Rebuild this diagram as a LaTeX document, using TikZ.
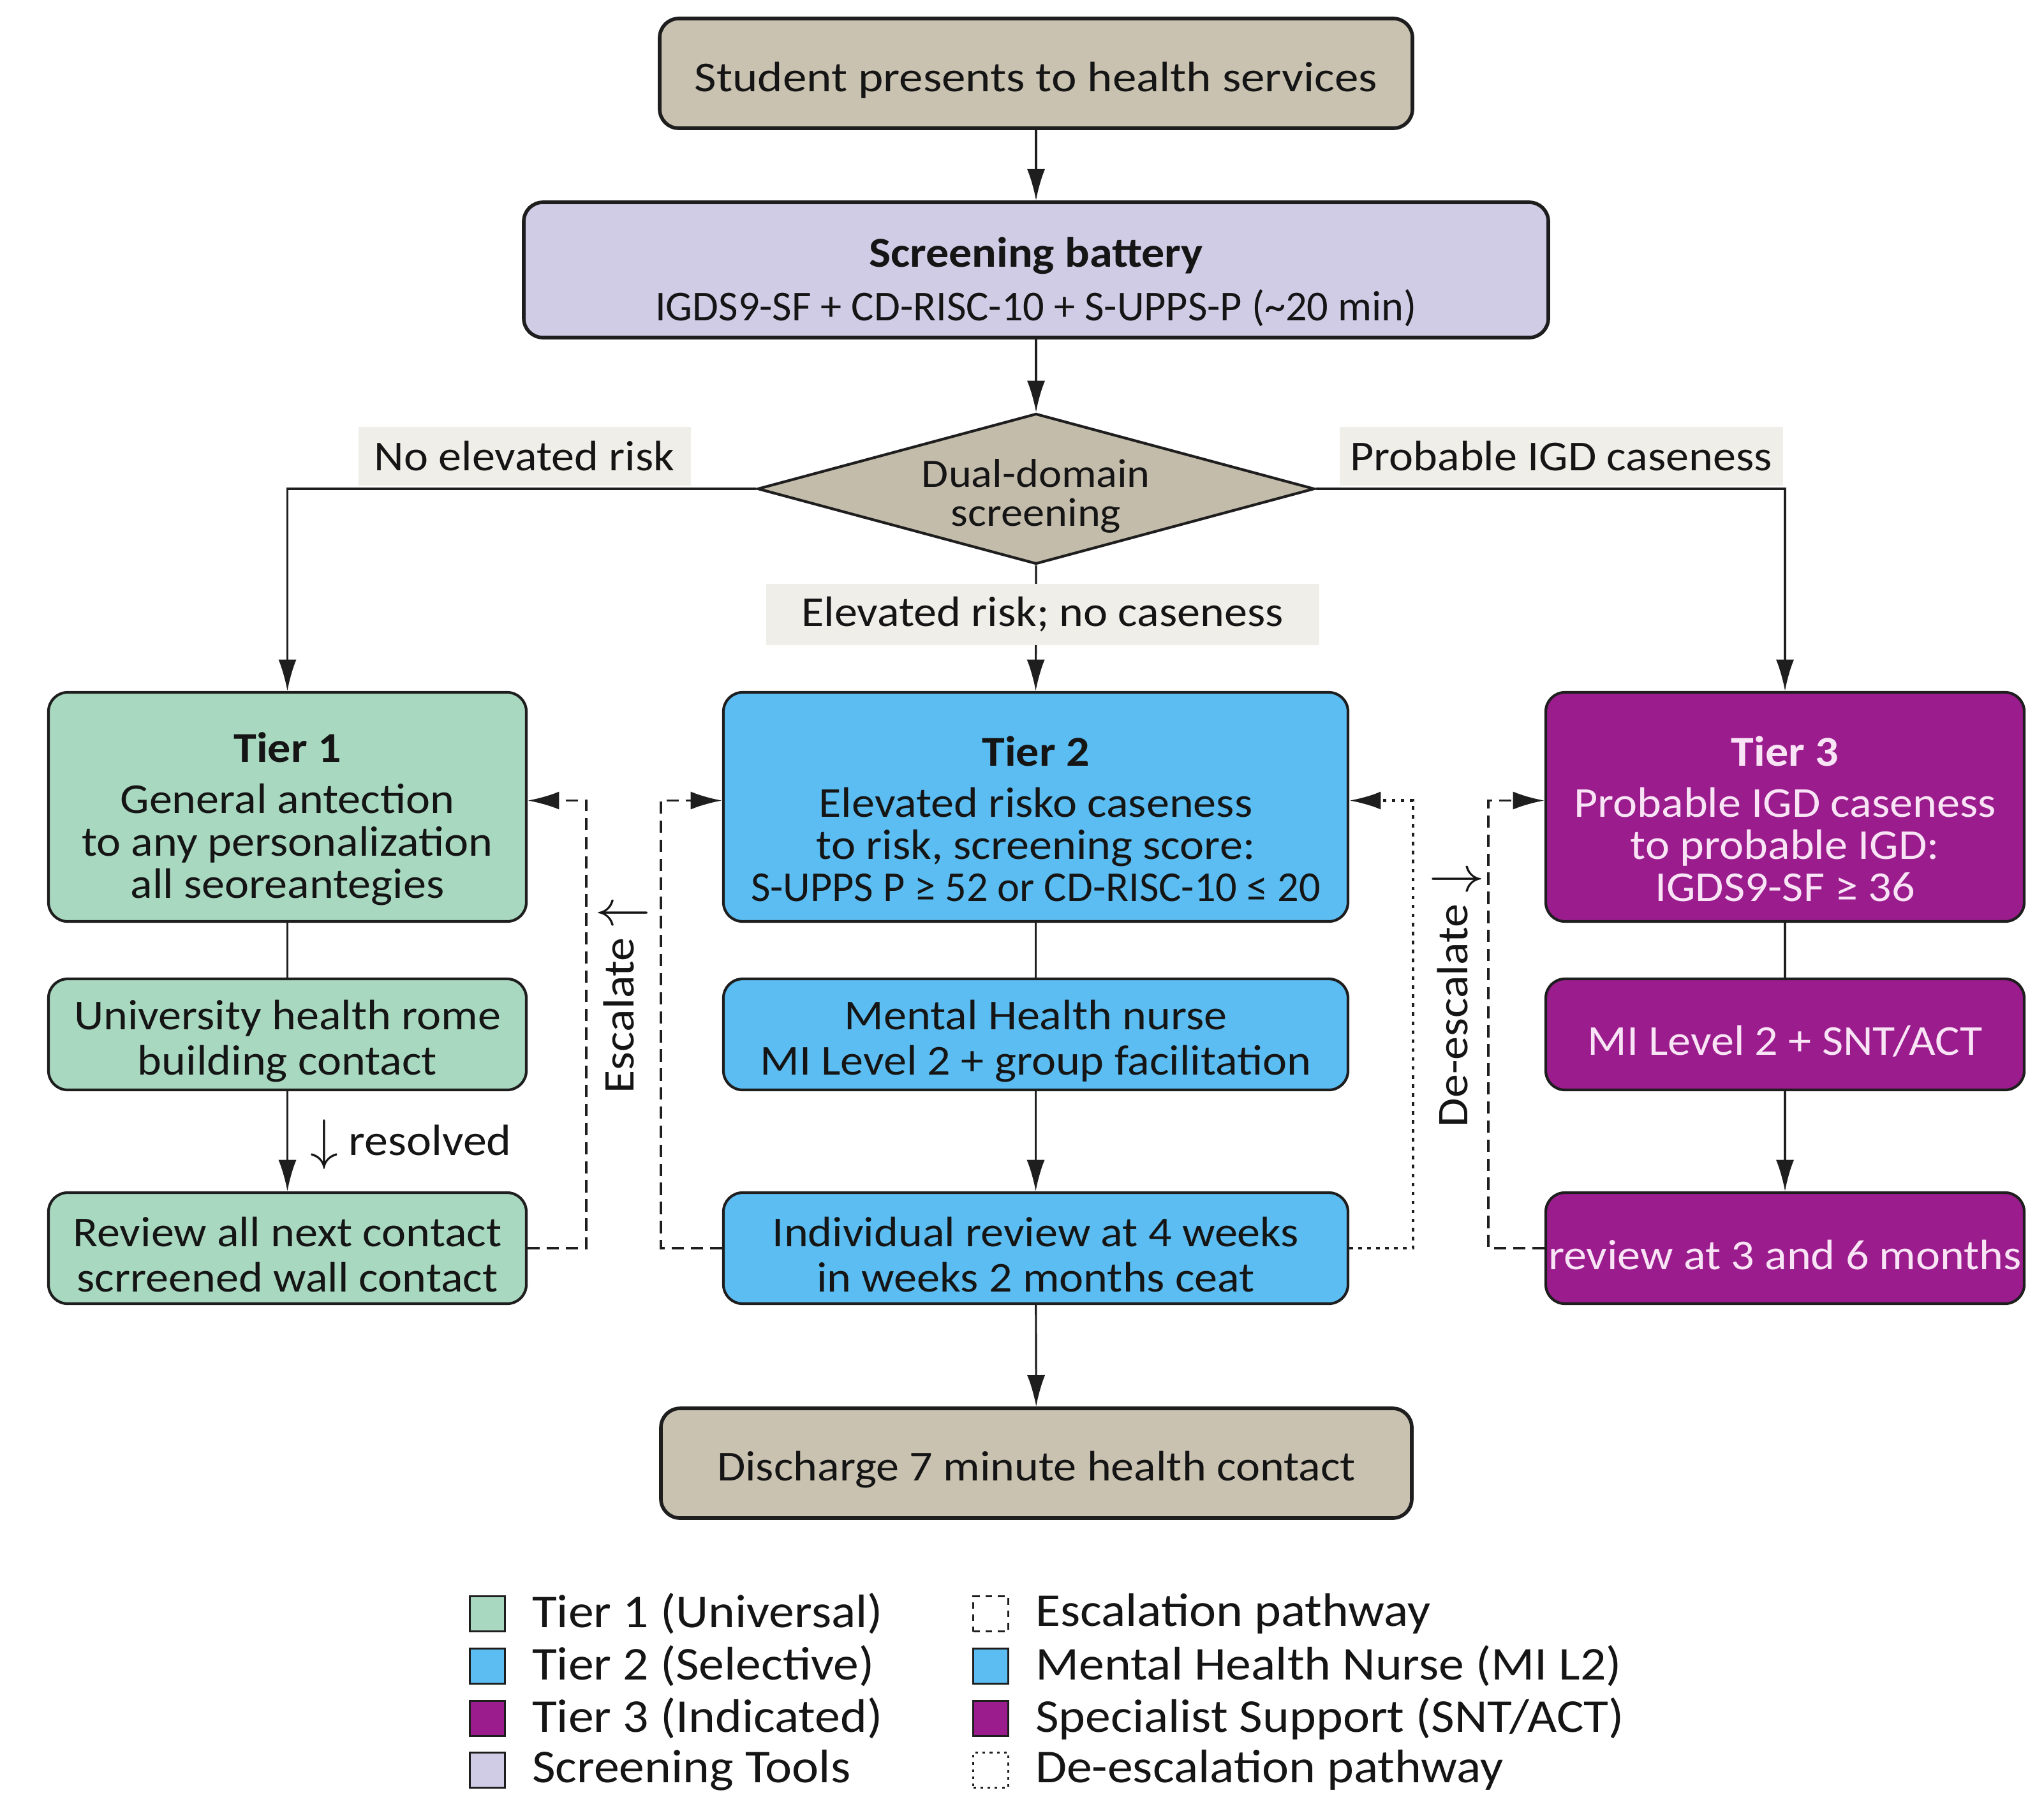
\documentclass[tikz,border=0pt]{standalone}
\usepackage{fontspec}
\setmainfont{Carlito}[FakeStretch=1.08]
\usepackage{xcolor}
\usepackage{graphicx}
\usetikzlibrary{arrows.meta, positioning, calc, shapes.geometric}

\definecolor{tanbox}{HTML}{C9C2B1}
\definecolor{diabox}{HTML}{C4BCAB}
\definecolor{screenbox}{HTML}{D0CCE6}
\definecolor{tieronec}{HTML}{A8D8C0}
\definecolor{tiertwoc}{HTML}{5BBDF1}
\definecolor{tierthreec}{HTML}{9B1C8D}
\definecolor{tierthreetxt}{HTML}{F9E4F6}
\definecolor{lblbg}{HTML}{EFEEE8}
\definecolor{edgec}{HTML}{1E1E1E}
\definecolor{txtc}{HTML}{151515}

\newcommand{\bigarr}[1]{\raisebox{-1.5pt}{\scalebox{1.2}{$#1$}}}
\newcommand{\pushdown}[1]{\rule{0pt}{#1}}

\tikzset{
    basebox/.style={draw=edgec, rounded corners=0.3cm, align=center, inner sep=0pt,
        text=txtc, font=\fontsize{19}{18.8}\selectfont},
    endbox/.style={basebox, fill=tanbox, line width=1.6pt, minimum height=1.72cm},
    toolbox/.style={basebox, fill=screenbox, line width=1.6pt},
    tierone/.style={basebox, fill=tieronec, line width=1.2pt, minimum width=7.49cm},
    tiertwo/.style={basebox, fill=tiertwoc, line width=1.2pt, minimum width=9.79cm},
    tierthree/.style={basebox, fill=tierthreec, line width=1.2pt, minimum width=7.5cm,
        text=tierthreetxt},
    branchlbl/.style={fill=lblbg, inner sep=0pt, minimum height=0.92cm, text=txtc,
        font=\fontsize{19}{18.8}\selectfont},
    flow/.style={-{Latex[length=14pt,width=8pt]}, line width=0.9pt, draw=edgec},
    escline/.style={flow, line width=1.1pt, dash pattern=on 5.5pt off 3pt},
    descline/.style={flow, line width=1.3pt, dash pattern=on 1.6pt off 2.4pt},
    sidelbl/.style={text=txtc, inner sep=0pt, font=\fontsize{19.5}{18.8}\selectfont},
    legsq/.style={draw=edgec, line width=1.1pt, minimum size=0.55cm, inner sep=0pt},
    legtxt/.style={right=0.4cm, inner sep=0pt, text=txtc, font=\fontsize{21}{21}\selectfont}
}

\begin{document}
\begin{tikzpicture}

            \useasboundingbox (0,0) rectangle (32.04,-28.48);

            % 入口与筛查
            \node[endbox, minimum width=11.8cm] (start) at (16.24,-1.15)
            {\pushdown{19pt}\scalebox{1.04}[1]{Student presents to health services}};
            \node[toolbox, minimum width=16.06cm, minimum height=2.12cm] (battery) at (16.24,-4.23)
            {\pushdown{24pt}\textbf{Screening battery}\\[5pt]\scalebox{0.92}[1]{IGDS9-SF + CD-RISC-10 + S-UPPS-P (\textasciitilde20 min)}};
            \node[diamond, draw=edgec, fill=diabox, line width=1.2pt, aspect=3.7, inner sep=0pt,
                minimum width=8.48cm, minimum height=2.29cm, align=center, text=txtc,
                font=\fontsize{18}{17.5}\selectfont] (dual) at (16.24,-7.66)
            {\pushdown{19pt}Dual-domain\\screening};

            % 三个层级
            \node[tierone, minimum height=3.59cm] (tone) at (4.505,-12.645)
            {\pushdown{24pt}\textbf{Tier 1}\\[4pt]General antection\\to any personalization\\all seoreantegies};
            \node[tiertwo, minimum height=3.59cm] (ttwo) at (16.235,-12.645)
            {\pushdown{24pt}\textbf{Tier 2}\\[4pt]Elevated risko caseness\\to risk, screening score:\\\scalebox{0.92}[1]{S-UPPS P ≥ 52 or CD-RISC-10 ≤ 20}};
            \node[tierthree, minimum height=3.59cm] (tthree) at (27.98,-12.645)
            {\pushdown{24pt}\textbf{Tier 3}\\[4pt]Probable IGD caseness\\to probable IGD:\\IGDS9-SF ≥ 36};

            % 干预
            \node[tierone, minimum height=1.74cm] (uhealth) at (4.505,-16.21)
            {\pushdown{19pt}University health rome\\[1.5pt]building contact};
            \node[tiertwo, minimum height=1.74cm] (nurse) at (16.235,-16.21)
            {\pushdown{19pt}Mental Health nurse\\[1.5pt]MI Level 2 + group facilitation};
            \node[tierthree, minimum height=1.74cm] (snt) at (27.98,-16.21)
            {\pushdown{19pt}MI Level 2 + SNT/ACT};

            % 复查
            \node[tierone, minimum height=1.74cm] (revone) at (4.505,-19.56)
            {\pushdown{19pt}Review all next contact\\[1.5pt]scrreened wall contact};
            \node[tiertwo, minimum height=1.74cm] (revtwo) at (16.235,-19.56)
            {\pushdown{19pt}Individual review at 4 weeks\\[1.5pt]in weeks 2 months ceat};
            \node[tierthree, minimum height=1.74cm] (revthree) at (27.98,-19.56)
            {\pushdown{19pt}review at 3 and 6 months};

            % 出院
            \node[endbox, minimum width=11.77cm] (discharge) at (16.245,-22.93)
            {\pushdown{19pt}Discharge 7 minute health contact};

            % 主流程
            \draw[flow] (start) -- (battery);
            \draw[flow] (battery) -- (dual);
            \draw[flow] (dual.west) -| (tone.north);
            \draw[flow] (dual.east) -| (tthree.north);
            \draw[flow] (dual.south) -- (ttwo.north);
            \draw[line width=0.9pt, draw=edgec] (tone) -- (uhealth);
            \draw[line width=0.9pt, draw=edgec] (ttwo) -- (nurse);
            \draw[line width=0.9pt, draw=edgec] (tthree) -- (snt);
            \draw[flow] (uhealth) -- (revone);
            \draw[flow] (nurse) -- (revtwo);
            \draw[flow] (snt) -- (revthree);
            \draw[flow] (revtwo) -- (discharge);

            % 升级 / 降级
            \draw[escline] (revone.east) -- ++(0.92,0) |- ([yshift=1mm]tone.east);
            \draw[escline] (revtwo.west) -- ++(-0.96,0) |- ([yshift=1mm]ttwo.west);
            \draw[descline] (revtwo.east) -- ++(1.0,0) |- ([yshift=1mm]ttwo.east);
            \draw[escline] (revthree.west) -- ++(-0.88,0) |- ([yshift=1mm]tthree.west);

            % 分支标签
            \node[branchlbl, minimum width=5.21cm] (lblno) at (8.22,-7.15) {No elevated risk};
            \node[branchlbl, minimum width=6.95cm] (lblprob) at (24.47,-7.15) {Probable IGD caseness};
            \node[branchlbl, minimum width=8.67cm, minimum height=0.96cm] (lblelev) at (16.34,-9.63)
            {Elevated risk; no caseness};
            \node[sidelbl] (lblres) at (6.44,-17.94) {\bigarr{\downarrow} resolved};
            \node[sidelbl, rotate=90] (lblesc) at (9.77,-15.61) {Escalate \bigarr{\uparrow}};
            \node[sidelbl, rotate=90] (lbldesc) at (22.84,-15.61) {De-escalate \bigarr{\downarrow}};

            % 图例
            \node[legsq, fill=tieronec] (lgone) at (7.64,-25.29) {};
            \node[legtxt] at (lgone.east) {Tier 1 (Universal)};
            \node[legsq, fill=tiertwoc] (lgtwo) at (7.64,-26.11) {};
            \node[legtxt] at (lgtwo.east) {Tier 2 (Selective)};
            \node[legsq, fill=tierthreec] (lgthree) at (7.64,-26.93) {};
            \node[legtxt] at (lgthree.east) {Tier 3 (Indicated)};
            \node[legsq, fill=screenbox] (lgtool) at (7.64,-27.74) {};
            \node[legtxt] at (lgtool.east) {Screening Tools};

            \node[legsq, dash pattern=on 3pt off 2.5pt] (lgesc) at (15.53,-25.29) {};
            \node[legtxt] at (lgesc.east) {Escalation pathway};
            \node[legsq, fill=tiertwoc] (lgnurse) at (15.53,-26.11) {};
            \node[legtxt] at (lgnurse.east) {Mental Health Nurse (MI L2)};
            \node[legsq, fill=tierthreec] (lgspec) at (15.53,-26.93) {};
            \node[legtxt] at (lgspec.east) {Specialist Support (SNT/ACT)};
            \node[legsq, dash pattern=on 1.2pt off 2pt] (lgdesc) at (15.53,-27.74) {};
            \node[legtxt] at (lgdesc.east) {De-escalation pathway};

\end{tikzpicture}
\end{document}
